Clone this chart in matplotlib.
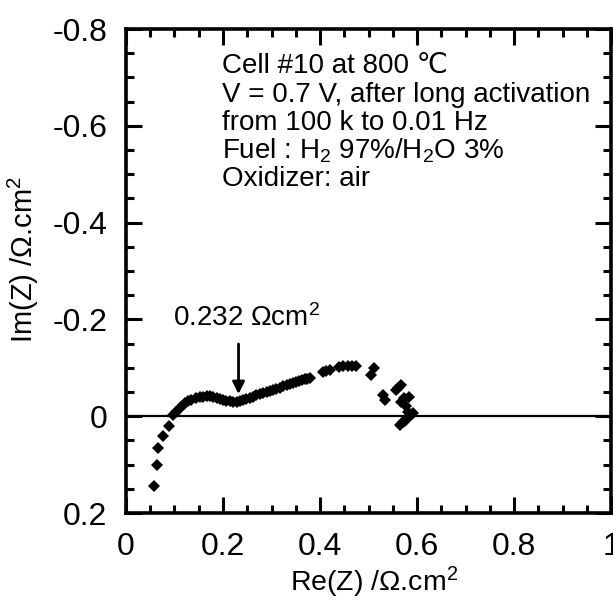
import matplotlib
matplotlib.use('Agg')
import matplotlib.pyplot as plt
from matplotlib.ticker import MultipleLocator

plt.rcParams['font.family'] = ['Liberation Sans', 'DejaVu Sans']
plt.rcParams['mathtext.fontset'] = 'custom'
plt.rcParams['mathtext.rm'] = 'Liberation Sans'
plt.rcParams['mathtext.it'] = 'Liberation Sans:italic'

# impedance data (Ohm.cm2)
re_z = [0.058, 0.063, 0.066, 0.077, 0.089, 0.097, 0.104, 0.110, 0.116, 0.121,
        0.128, 0.135, 0.145, 0.152, 0.159, 0.166, 0.173, 0.180, 0.187, 0.194,
        0.200, 0.207, 0.214, 0.221, 0.228, 0.235, 0.241, 0.248, 0.255, 0.262,
        0.269, 0.276, 0.283, 0.290, 0.297, 0.303, 0.310, 0.317, 0.324, 0.331,
        0.338, 0.344, 0.350, 0.356, 0.362, 0.368, 0.374, 0.379, 0.406, 0.413,
        0.420, 0.440, 0.448, 0.457, 0.466, 0.475, 0.512, 0.506, 0.529, 0.533,
        0.567, 0.561, 0.557, 0.574, 0.584, 0.567, 0.578, 0.581, 0.591, 0.587,
        0.578, 0.575, 0.571, 0.564]
im_z = [0.145, 0.101, 0.066, 0.041, 0.021, -0.002, -0.008, -0.014, -0.021, -0.027,
        -0.031, -0.034, -0.037, -0.039, -0.040, -0.041, -0.041, -0.040, -0.038, -0.036,
        -0.034, -0.032, -0.031, -0.030, -0.030, -0.031, -0.033, -0.035, -0.038, -0.040,
        -0.043, -0.046, -0.048, -0.051, -0.053, -0.055, -0.057, -0.059, -0.062, -0.064,
        -0.066, -0.068, -0.070, -0.072, -0.075, -0.076, -0.077, -0.078, -0.092, -0.093,
        -0.095, -0.101, -0.103, -0.104, -0.104, -0.104, -0.099, -0.085, -0.043, -0.033,
        -0.064, -0.059, -0.054, -0.037, -0.040, -0.030, -0.022, -0.009, -0.006, -0.002,
        0.005, 0.010, 0.012, 0.019]

x_ticks = [0, 0.2, 0.4, 0.6, 0.8, 1]
x_labels = ['0', '0.2', '0.4', '0.6', '0.8', '1']
y_ticks = [0.2, 0, -0.2, -0.4, -0.6, -0.8]
y_labels = ['0.2', '0', '-0.2', '-0.4', '-0.6', '-0.8']

info_lines = ['Cell #10 at 800 \u2103',
              'V = 0.7 V, after long activation',
              'from 100 k to 0.01 Hz',
              'Fuel : H$_2$ 97%/H$_2$O 3%',
              'Oxidizer: air']

fig = plt.figure(figsize=(6.13, 6.01), dpi=100)
ax = fig.add_axes([0.2055, 0.1464, 0.7915, 0.8053])

ax.axhline(0, color='black', lw=1.6, zorder=1)
ax.plot(re_z, im_z, 'D', color='black', markersize=6, markeredgewidth=0, zorder=3)

ax.set_xlim(0, 1)
ax.set_ylim(0.2, -0.8)
ax.set_xticks(x_ticks)
ax.set_xticklabels(x_labels)
ax.set_yticks(y_ticks)
ax.set_yticklabels(y_labels)
ax.xaxis.set_minor_locator(MultipleLocator(0.05))
ax.yaxis.set_minor_locator(MultipleLocator(0.05))

for s in ax.spines.values():
    s.set_linewidth(2.6)
ax.tick_params(which='both', direction='in', top=True, right=True, labelsize=23)
ax.tick_params(which='major', length=11.5, width=2.2)
ax.tick_params(which='minor', length=5.5, width=2.2)
ax.tick_params(axis='x', pad=14)
ax.tick_params(axis='y', pad=13.5)

ax.set_xlabel('Re(Z) /\u03a9.cm$^2$', fontsize=20.5)
ax.set_ylabel('Im(Z) /\u03a9.cm$^2$', fontsize=21)
ax.xaxis.set_label_coords(0.512, -0.106)
ax.yaxis.set_label_coords(-0.175, 0.523)

line_y = [-0.709, -0.650, -0.591, -0.533, -0.475]
for txt, yy in zip(info_lines, line_y):
    ax.text(0.198, yy, txt, fontsize=20, va='baseline', ha='left')

ax.annotate('', xy=(0.232, -0.040), xytext=(0.232, -0.155),
            arrowprops=dict(arrowstyle='-|>', color='black', lw=2,
                            mutation_scale=18))
ax.text(0.248, -0.203, '0.232 \u03a9cm$^2$', fontsize=20, ha='center', va='center')

fig.savefig('out.png', dpi=100)
